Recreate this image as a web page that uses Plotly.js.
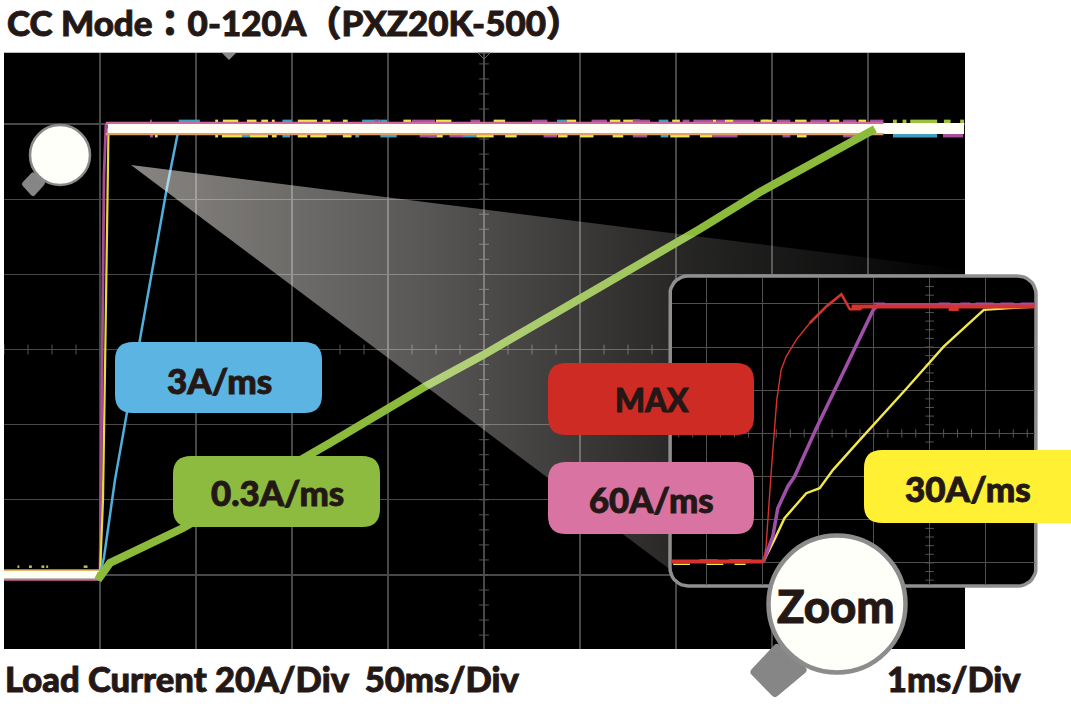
<!DOCTYPE html>
<html><head><meta charset="utf-8">
<script src="https://cdn.plot.ly/plotly-3.0.1.min.js"></script>
<style>html,body{margin:0;padding:0;background:#fff}#c{width:1071px;height:706px}
.annotation-text{stroke:#231815;stroke-width:0.9px;paint-order:stroke}
.shapelayer path{stroke-linejoin:round}</style>
</head><body><div id="c"></div>
<script>
// ---- main scope traces: time in ms, current in A ----
const greenT=[-2,0,5.2,22.4,43.2,119.8,145.8,168.2,199.5,229.2,270.8,312.5,343.7,383.8,403.6];
const greenA=[0,-0.5,3.2,7.2,12.5,35.1,43.1,49.8,58.5,67.3,79.8,92.1,101.9,113.1,118.7];
const blueT=[0,2.1,7.8,15.6,29.7,34.9,40.1,41];
const blueA=[0,4.8,25.3,47.9,89.1,103.2,116.5,118.8];
const purpleT=[0,0.52,1.2,2.08,3.1];
const purpleA=[0,25.3,54.5,106.2,120];
const yellowT=[0,1.56,2.6,4.17,4.43];
const yellowA=[0,20,54.5,107.8,118.9];
const pinkT=[0,0.5,1];
const pinkA=[0,12,25];
// noise at the settled level, [start,end] in ms
const topYellow=[[60,61.5],[64,72],[76.5,81.5],[84,87.5],[89.5,91],[103,113],[116,120],[126.5,129],[158,162],[175,183],[205,211],[243,248],[265.5,271],[272.5,281],[298,302],[319,321],[325.5,330],[344,350],[362,368],[380,385],[395,399]];
const topCyan=[[41,52],[95,100],[136.5,146],[146,149.5],[238,243],[291,296],[345,348]];
const topPurple=[[26,27],[143,145],[162.5,174.5],[193,198],[225,233],[256,264],[277.5,286.5],[303.5,307],[309,319],[321,325.5],[330,340.5],[352.5,359.5],[370,378.5],[387,394],[401,408]];
const topGreen=[[413,415],[418,420],[422,436],[439.5,443],[448,450]];
const botYellow=[[28.6,30],[60,61.5],[63.5,74],[78,87.5],[89.5,92],[103,108],[109.5,118],[126.5,131],[175.5,178.5],[196,205],[211,217],[238.5,243.5],[250,257],[267,272.5],[297,307],[312.5,319],[363,368]];
const botCyan=[[74,78],[95,99],[133,135],[146,154.5],[171,175.5],[188.5,196],[292,296],[413,436]];
const botPurple=[[26,27.6],[166.5,175.5],[182,189],[231,238],[277.5,285],[319,332],[355.5,359.5],[387,394],[439,449.5]];
const baseSpecks=[[-43,-42],[-37,-35.5],[-30.5,-29],[-28,-27],[-8.5,-6.5]];
// ---- zoomed inset traces: time in ms, current in A ----
const zMaxRiseT=[0.02,0.066,0.156,0.216,0.258,0.336,0.426,0.607,0.847];
const zMaxRiseA=[0.6,7.6,41.5,60.1,75.5,89.4,95.6,103.3,111];
const zMaxTopT=[0.847,1.147,1.417,1.568,1.748,1.807,4.9];
const zMaxTopA=[111,118.8,124.5,117.5,117.5,118.8,118.8];
const zMaxBaseT=[-1.66,0.02];
const zMaxBaseA=[0.6,0.6];
const z60T=[0.018,0.186,0.276,0.456,0.577,0.967,1.387,1.988,2.078,4.9];
const z60A=[0.6,12.2,25.3,35.4,40,62.4,84.8,117.2,119.5,119.5];
const z30T=[0.018,0.216,0.396,0.787,1.027,1.267,1.748,2.048,2.589,3.25,3.97,4.9];
const z30A=[0.6,10.7,20.7,32.3,34.6,43.1,57,65.5,80.9,100.2,117.2,118.8];
const z60TopNoise=[[2.0,2.2],[3.16,3.37],[3.55,3.73],[3.82,4.15],[4.27,4.51],[4.63,4.9]];
const z60BaseNoise=[[-1.13,-0.8],[-0.6,-0.2]];
const z30BaseNoise=[[-1.6,-1.3],[-1.0,-0.7],[-0.5,-0.3]];
const zMaxChunk=[[3.34,3.52]];
// ---- labels ----
const labelTexts=['3A/ms','0.3A/ms','MAX','60A/ms','30A/ms'];
const labelColors=['#5cb4e2','#8cbb3f','#cf2b25','#d873a2','#fff033'];
const titleText='CC Mode\uFF1A0-120A\uFF08PXZ20K-500\uFF09';
const footLeft='Load Current 20A/Div\u00A0\u00A050ms/Div';
const footRight='1ms/Div';

const W=1071,H=706;
const px=x=>x/W, py=y=>1-y/H;
const INK='#231815', FONT='Lato, "Noto Sans CJK JP", sans-serif';

function seg(list,level,color,width,ax){
  const x=[],y=[];
  list.forEach(s=>{x.push(s[0],s[1],null);y.push(level,level,null);});
  return {x,y,mode:'lines',line:{color,width},xaxis:ax?'x3':'x',yaxis:ax?'y3':'y',hoverinfo:'skip'};
}
function line(x,y,color,width,ax){
  return {x,y,mode:'lines',line:{color,width},xaxis:ax?'x3':'x',yaxis:ax?'y3':'y',hoverinfo:'skip'};
}
function ticks(x,y,sym,ax,size){
  return {x,y,mode:'markers',marker:{symbol:sym,size,color:'#555',line:{color:'#555',width:1}},
    xaxis:ax?'x3':'x',yaxis:ax?'y3':'y',hoverinfo:'skip'};
}
function range(a,b,s){const o=[];for(let v=a;v<=b+1e-9;v+=s)o.push(v);return o;}
function rrPts(x0,y0,x1,y1,r){
  const X=[],Y=[];
  [[x1-r,y0+r,-90],[x1-r,y1-r,0],[x0+r,y1-r,90],[x0+r,y0+r,180]].forEach(c=>{
    for(let a=0;a<=90;a+=10){
      const t=(c[2]+a)*Math.PI/180;
      X.push(c[0]+r*Math.cos(t));Y.push(c[1]+r*Math.sin(t));
    }
  });
  X.push(X[0]);Y.push(Y[0]);
  return {X,Y};
}
function rrPath(x0,y0,x1,y1,r){
  const P=(x,y)=>px(x)+','+py(y);
  return 'M'+P(x0+r,y0)+' L'+P(x1-r,y0)+' Q'+P(x1,y0)+' '+P(x1,y0+r)+
    ' L'+P(x1,y1-r)+' Q'+P(x1,y1)+' '+P(x1-r,y1)+' L'+P(x0+r,y1)+' Q'+P(x0,y1)+' '+P(x0,y1-r)+
    ' L'+P(x0,y0+r)+' Q'+P(x0,y0)+' '+P(x0+r,y0)+' Z';
}
function poly(pts){return 'M'+pts.map(p=>px(p[0])+','+py(p[1])).join(' L')+' Z';}
function pathShape(path,fill,stroke,w,layer){
  return {type:'path',path,xref:'paper',yref:'paper',fillcolor:fill,line:{color:stroke||fill,width:w||0},layer:layer||'above'};
}
function circle(cx,cy,r,fill,stroke,w){
  return {type:'circle',xref:'paper',yref:'paper',x0:px(cx-r),x1:px(cx+r),y0:py(cy-r),y1:py(cy+r),
    fillcolor:fill,line:{color:stroke,width:w},layer:'above'};
}
function text(t,x,y,size,anchor){
  return {text:t,x:px(x),y:py(y),xref:'paper',yref:'paper',showarrow:false,xanchor:anchor||'center',yanchor:'middle',
    font:{family:FONT,size,color:INK,weight:900}};
}

const frame=rrPts(670,276,1036,586,18);
const traces=[
  ticks(range(-50,450,12.5),range(-50,450,12.5).map(()=>60),'line-ns',false,7),
  ticks(range(-16,136,4).map(()=>200),range(-16,136,4),'line-ew',false,7),
  seg(topCyan,120.7,'#3f9fc0',3.5), seg(topYellow,120.7,'#f0e64a',3.5), seg(topPurple,120.7,'#a64f9c',3.5), seg(topGreen,120.7,'#9cc23c',3.5),
  seg(botCyan,116.9,'#3f9fc0',3.5), seg(botYellow,116.9,'#f0e64a',3.5), seg(botPurple,116.9,'#a64f9c',3.5),
  line(pinkT,pinkA,'#f0d8c8',1.5),
  line(purpleT,purpleA,'#a94c93',2.8),
  line(yellowT,yellowA,'#e6dc3c',2.2),
  line(blueT,blueA,'#4fb0dc',2.5),
  line([3,408],[120.2,120.2],'#d3689e',2.8),
  line([3,408],[117.3,117.3],'#dfa066',2.4),
  line([4,450],[118.8,118.8],'#fffef4',9),
  line([408,450],[118.8,118.8],'#fffef4',11),
  seg(baseSpecks,2.2,'#b6c24a',2.5),
  line([-50,0],[1.3,1.3],'#dfa040',1.8),
  line([-50,0],[-1.3,-1.3],'#d3689e',1.8),
  line([-50,0],[0.05,0.05],'#fffef4',8),
  line(greenT,greenA,'#8cbb3c',8),
  {x:[131,965,965,668,131],y:[165,270,400,568,165],xaxis:'x2',yaxis:'y2',mode:'lines',fill:'toself',line:{width:0},
   fillgradient:{type:'horizontal',colorscale:[[0,'rgba(255,250,245,0.53)'],[0.35,'rgba(255,250,245,0.35)'],[0.65,'rgba(255,250,245,0.16)'],[1,'rgba(255,250,245,0.0)']]},hoverinfo:'skip'},
  {x:frame.X,y:frame.Y,xaxis:'x2',yaxis:'y2',mode:'lines',fill:'toself',fillcolor:'#000',line:{color:'#8f8f8f',width:3.5},hoverinfo:'skip'},
  ticks(range(-1.5,4.75,0.25),range(-1.5,4.75,0.25).map(()=>60),'line-ns',true,6),
  ticks(range(-8,128,4).map(()=>3),range(-8,128,4),'line-ew',true,6),
  seg(z30BaseNoise,-0.6,'#f2e84b',1.5,true),
  seg(z60BaseNoise,1.3,'#a04fa8',1.5,true),
  seg(z60TopNoise,120.2,'#a04fa8',2,true),
  line(z30T,z30A,'#f2e84b',2.4,true),
  line(z60T,z60A,'#a04fa8',3.5,true),
  line(zMaxRiseT,zMaxRiseA,'#d6322e',1.4,true),
  line(zMaxTopT,zMaxTopA,'#d6322e',2.6,true),
  line([1.6,4.9],[118.8,118.8],'#d6322e',4,true),
  seg(zMaxChunk,117.6,'#d6322e',4,true),
  line(zMaxBaseT,zMaxBaseA,'#d6322e',4,true)
];

const shapes=[
  pathShape(poly([[4,53],[965,53],[965,649],[4,649]]),'#000','#000',0,'below'),
  {type:'line',xref:'paper',yref:'paper',x0:px(4),x1:px(965),y0:py(52.5),y1:py(52.5),line:{color:'#bbb',width:1},layer:'above'},
  pathShape(poly([[222,53],[236,53],[229,60]]),'#8a8a8a','#8a8a8a',0),
  pathShape(poly([[478,53],[490,53],[484,59]]),'rgba(0,0,0,0)','#666',1),
  pathShape(rrPath(115,342,322,413,18),labelColors[0]),
  pathShape(rrPath(173,456,380,527,18),labelColors[1]),
  pathShape(rrPath(548,363,754,435,18),labelColors[2]),
  pathShape(rrPath(548,462,754,534,18),labelColors[3]),
  pathShape(rrPath(864,450,1090,523,18),labelColors[4]),
  pathShape(poly([[33,175],[42.5,183],[33,193.5],[24.5,184]]),'#868686','#868686',5),
  circle(60,155,30,'#fffffa','#8a8a8a',2.5),
  pathShape(poly([[777,648],[802.5,670],[775,693],[754.5,672]]),'#868686','#868686',8),
  circle(837,604,68.5,'#fffffa','#8c8c8c',4.5)
];

const annotations=[
  text(titleText,5,22,35,'left'),
  text(footLeft,3,678,34.6,'left'),
  text(footRight,885,678,34.4,'left'),
  text('Zoom',836,605,45.5),
  text(labelTexts[0],219,380,35),
  text(labelTexts[1],277,493,34.8),
  text(labelTexts[2],652,400,31.5),
  text(labelTexts[3],651,500,34.7),
  text(labelTexts[4],968,488,35)
];

const gridAxis=(extra)=>Object.assign({showticklabels:false,ticks:'',zeroline:false,showline:false,showgrid:true,fixedrange:true},extra);
const hidden=(extra)=>Object.assign({visible:false,showgrid:false,zeroline:false,fixedrange:true},extra);
const layout={
  width:W,height:H,margin:{l:0,r:0,t:0,b:0,pad:0},showlegend:false,hovermode:false,
  paper_bgcolor:'#fff',plot_bgcolor:'rgba(0,0,0,0)',
  xaxis:gridAxis({domain:[px(4),px(965)],range:[-50,450.5],tick0:0,dtick:50,gridcolor:'#484848',gridwidth:1.3,anchor:'y'}),
  yaxis:gridAxis({domain:[py(649),py(53)],range:[-19.7,138.9],tick0:0,dtick:20,gridcolor:'#484848',gridwidth:1.3,anchor:'x'}),
  xaxis2:hidden({domain:[0,1],range:[0,W],anchor:'y2'}),
  yaxis2:hidden({domain:[0,1],range:[H,0],anchor:'x2'}),
  xaxis3:gridAxis({domain:[px(671.5),px(1034.5)],range:[-1.63,4.88],tick0:0,dtick:1,gridcolor:'#505050',gridwidth:1,anchor:'y3'}),
  yaxis3:gridAxis({domain:[py(584.5),py(277.5)],range:[-10,132.2],tick0:0,dtick:20,gridcolor:'#505050',gridwidth:1,anchor:'x3'}),
  shapes,annotations
};
Plotly.newPlot('c',traces,layout,{displayModeBar:false,staticPlot:true});
</script>
</body></html>
